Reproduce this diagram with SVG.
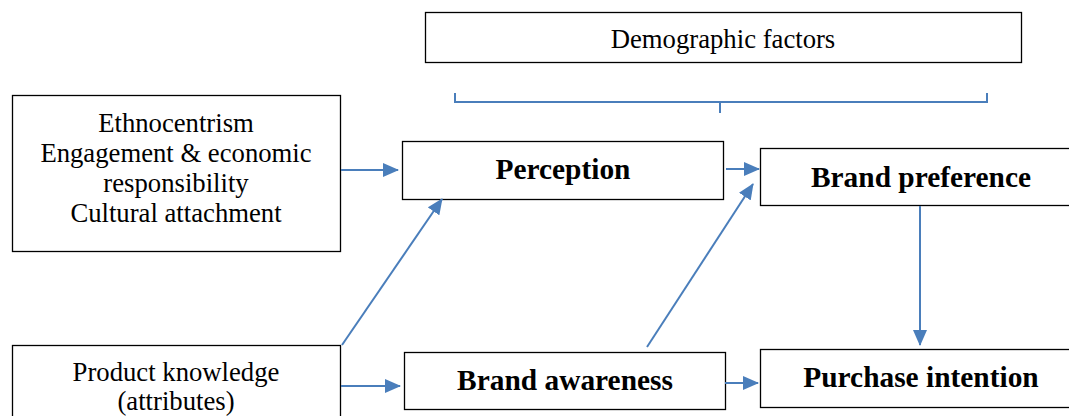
<svg xmlns="http://www.w3.org/2000/svg" width="1069" height="416" viewBox="0 0 1069 416">
<style>
.box{fill:#fff;stroke:#000;stroke-width:1.3}
.t{font-family:"Liberation Serif","Times New Roman","DejaVu Serif",serif;fill:#000;text-anchor:middle}
.n{font-size:26.7px}
.b{font-size:29.4px;font-weight:bold}
.c{fill:none;stroke:#4a7ebb;stroke-width:2}
</style>
<defs>
<marker id="a" markerWidth="16" markerHeight="14" refX="15" refY="7" orient="auto" markerUnits="userSpaceOnUse">
<path d="M0,0 L16,7 L0,14 z" fill="#4a7ebb"/>
</marker>
</defs>
<rect width="1069" height="416" fill="#fff"/>
<g id="demographic">
<rect class="box" x="425.5" y="12.5" width="596" height="50"/>
<text class="t n" x="723" y="48">Demographic factors</text>
</g>
<g id="bracket">
<path class="c" d="M455,93 V102 H987 V93 M720,102 V113"/>
</g>
<g id="antecedents">
<rect class="box" x="12.5" y="95.5" width="328" height="156"/>
<text class="t n" x="176" y="131.5">Ethnocentrism</text>
<text class="t n" x="176" y="161.5">Engagement &amp; economic</text>
<text class="t n" x="176" y="191.5">responsibility</text>
<text class="t n" x="176" y="221.5">Cultural attachment</text>
</g>
<g id="perception">
<rect class="box" x="402.5" y="141.5" width="321" height="58"/>
<text class="t b" x="563" y="179">Perception</text>
</g>
<g id="brand-preference">
<rect class="box" x="760.5" y="148.5" width="312" height="57"/>
<text class="t b" x="921" y="187">Brand preference</text>
</g>
<g id="product-knowledge">
<rect class="box" x="12.5" y="345.5" width="328" height="80"/>
<text class="t n" x="176" y="380.5">Product knowledge</text>
<text class="t n" x="176" y="410">(attributes)</text>
</g>
<g id="brand-awareness">
<rect class="box" x="404.5" y="352.5" width="321" height="57"/>
<text class="t b" x="565" y="390">Brand awareness</text>
</g>
<g id="purchase-intention">
<rect class="box" x="760.5" y="349.5" width="312" height="58"/>
<text class="t b" x="921" y="387">Purchase intention</text>
</g>
<g id="connectors">
<line class="c" x1="341" y1="170" x2="398" y2="170" marker-end="url(#a)"/>
<line class="c" x1="342" y1="345" x2="442" y2="199" marker-end="url(#a)"/>
<line class="c" x1="341" y1="386" x2="400" y2="386" marker-end="url(#a)"/>
<line class="c" x1="726" y1="169" x2="759" y2="169" marker-end="url(#a)"/>
<line class="c" x1="647" y1="347" x2="753" y2="184" marker-end="url(#a)"/>
<line class="c" x1="920" y1="206" x2="920" y2="345" marker-end="url(#a)"/>
<line class="c" x1="725" y1="383" x2="758" y2="383" marker-end="url(#a)"/>
</g>
</svg>
